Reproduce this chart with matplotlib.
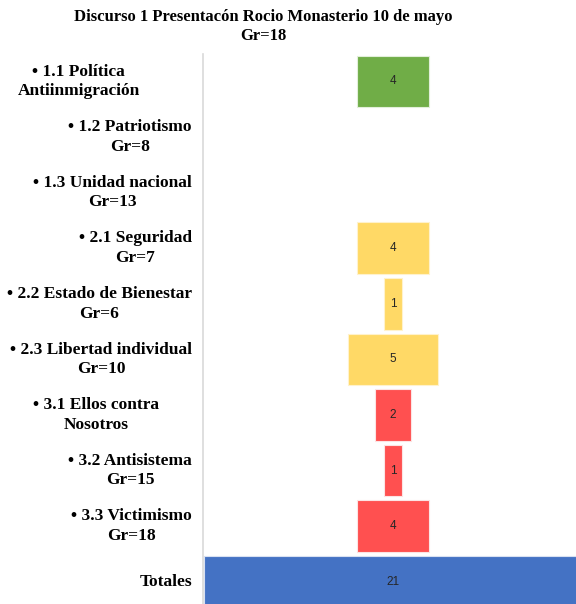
import numpy as np
import matplotlib.pyplot as plt
from matplotlib.transforms import offset_copy

plt.rcParams['font.family'] = ['Liberation Serif', 'DejaVu Serif']

# data
labels = ['\u2022 1.1 Política\nAntiinmigración',
          '\u2022 1.2 Patriotismo\nGr=8',
          '\u2022 1.3 Unidad nacional\nGr=13',
          '\u2022 2.1 Seguridad\nGr=7',
          '\u2022 2.2 Estado de Bienestar\nGr=6',
          '\u2022 2.3 Libertad individual\nGr=10',
          '\u2022 3.1 Ellos contra\nNosotros',
          '\u2022 3.2 Antisistema\nGr=15',
          '\u2022 3.3 Victimismo\nGr=18',
          'Totales']
values = [4, 0, 0, 4, 1, 5, 2, 1, 4, 21]
groups = ['1', '1', '1', '2', '2', '2', '3', '3', '3', 'T']

colors = {'1': '#70AD47', '2': '#FFD966', '3': '#FF5050', 'T': '#4472C4'}
edges = {'1': '#E2EFDA', '2': '#FFF2CC', '3': '#FCE4E4', 'T': '#D9E1F2'}
# wrapped labels sit further left in the original
label_shift = {0: 52, 6: 33}

W, H = 576, 604
fig = plt.figure(figsize=(W / 100, H / 100), dpi=100)
ax = fig.add_axes([203 / W, 0, 1 - 203 / W, 1 - 53.7 / H])

y = np.arange(len(values))
vals = np.array(values, dtype=float)
for i, v in enumerate(vals):
    if v == 0:
        continue
    ax.barh(i, v, left=-v / 2, height=0.93, color=colors[groups[i]],
            edgecolor=edges[groups[i]], linewidth=0.8)
    ax.text(0, i, str(values[i]), ha='center', va='center', fontsize=8.5,
            family='Liberation Sans', color='#262626')

ax.set_xlim(-10.55, 10.15)
ax.set_ylim(9.4, -0.5)
ax.set_xticks([])
ax.set_yticks([])
for s in ['top', 'right', 'bottom']:
    ax.spines[s].set_visible(False)
ax.spines['left'].set_color('#D9D9D9')
ax.spines['left'].set_linewidth(1.2)

base = ax.get_yaxis_transform()
for i, lab in enumerate(labels):
    tr = offset_copy(base, fig=fig, x=-(11 + label_shift.get(i, 0)), y=0, units='dots')
    ax.text(0, i, lab, transform=tr, ha='right', va='center', multialignment='center',
            fontsize=12.5, fontweight='bold', linespacing=1.3, clip_on=False)

fig.text(263 / W, 1 - 9 / H, 'Discurso 1 Presentacón Rocio Monasterio 10 de mayo\nGr=18',
         ha='center', va='top', fontsize=12, fontweight='bold', linespacing=1.25)

fig.savefig('out.png', dpi=100)
